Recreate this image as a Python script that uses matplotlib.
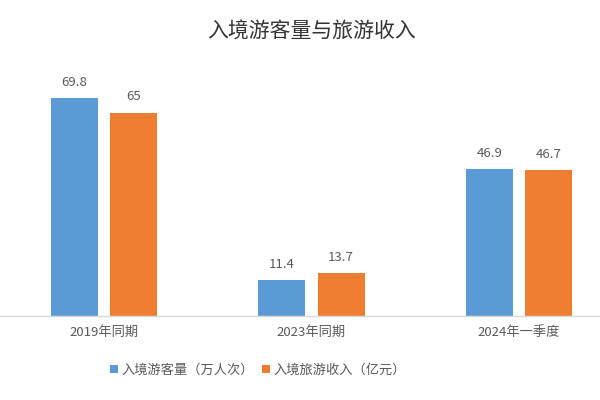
import matplotlib
matplotlib.use("Agg")
import matplotlib.pyplot as plt
import numpy as np

plt.rcParams['font.family'] = ['Noto Sans CJK SC', 'DejaVu Sans']

categories = ['2019年同期', '2023年同期', '2024年一季度']
visitors = [69.8, 11.4, 46.9]   # 入境游客量（万人次）
revenue = [65, 13.7, 46.7]      # 入境旅游收入（亿元）
value_labels_1 = ['69.8', '11.4', '46.9']
value_labels_2 = ['65', '13.7', '46.7']

fig = plt.figure(figsize=(6, 4), dpi=100)
ax = fig.add_axes([0, 0.21, 1, 0.625])

x = np.arange(len(categories))
w = 0.227
off = 0.143
b1 = ax.bar(x - off, visitors, w, color='#5B9BD5', label='入境游客量（万人次）')
b2 = ax.bar(x + off, revenue, w, color='#ED7D31', label='入境旅游收入（亿元）')

for bars, labels in [(b1, value_labels_1), (b2, value_labels_2)]:
    for b, t in zip(bars, labels):
        ax.text(b.get_x() + b.get_width() / 2, b.get_height() + 3, t,
                ha='center', va='bottom', fontsize=9.5, color='#595959')

ax.set_xlim(-0.5, 2.39)
ax.set_ylim(0, 80)
ax.set_xticks(x)
ax.set_xticklabels(categories, fontsize=9.5, color='#595959')
ax.tick_params(axis='x', length=0, pad=7)
ax.set_yticks([])
for s in ['top', 'right', 'left']:
    ax.spines[s].set_visible(False)
ax.spines['bottom'].set_color('#d9d9d9')
ax.spines['bottom'].set_linewidth(1)

fig.text(0.52, 0.922, '入境游客量与旅游收入', ha='center', va='center',
         fontsize=15, fontweight='medium', color='#333333')

leg = fig.legend(handles=[b1, b2], loc='center', bbox_to_anchor=(0.43, 0.075),
                 ncol=2, frameon=False, fontsize=9.5, handlelength=0.6,
                 handleheight=0.6, handletextpad=0.3, columnspacing=0.6)
for t in leg.get_texts():
    t.set_color('#595959')

fig.savefig('out.png', dpi=100, facecolor='white')
